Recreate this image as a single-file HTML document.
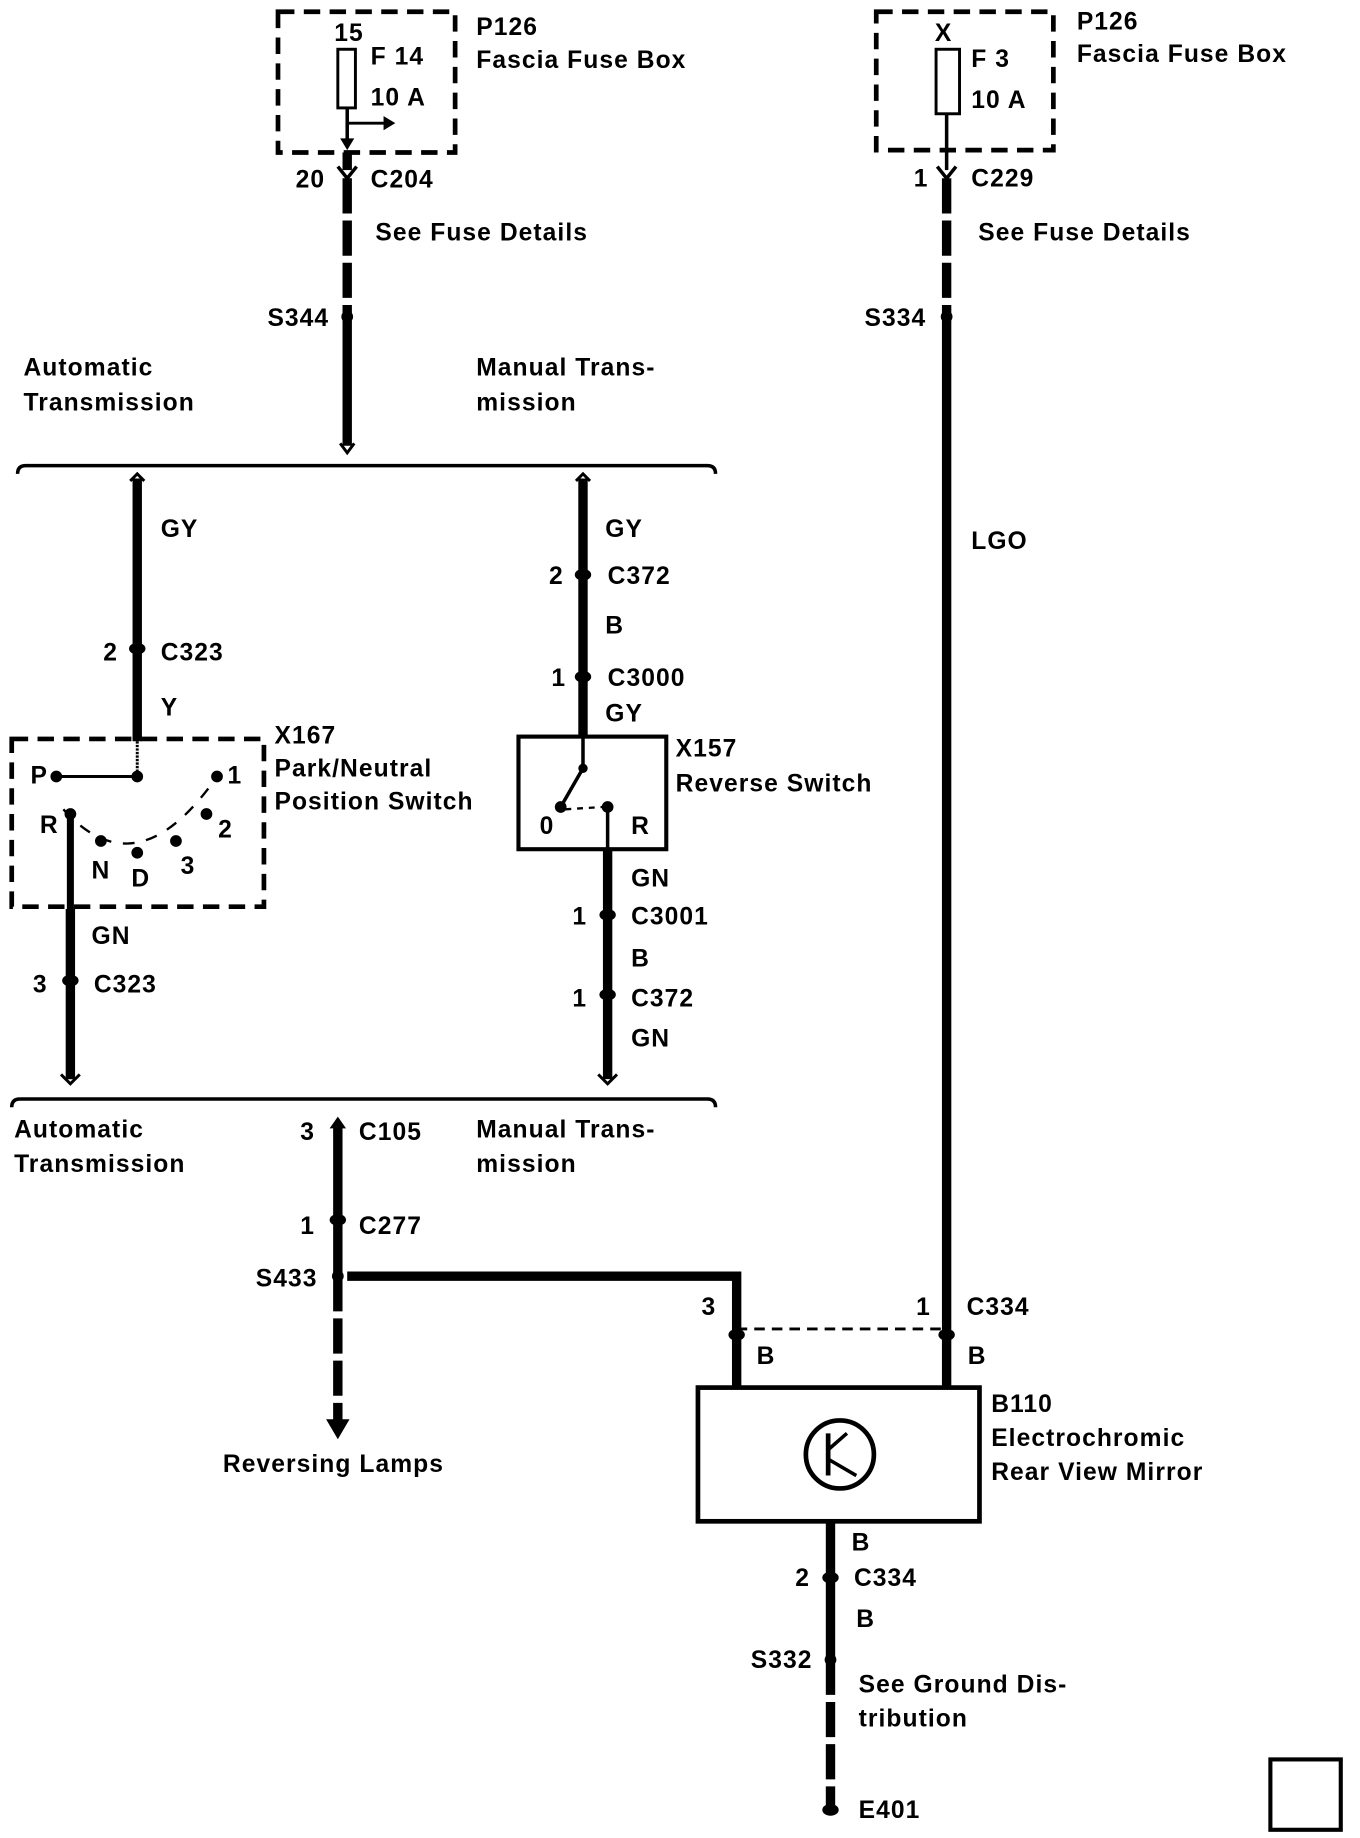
<!DOCTYPE html>
<html><head><meta charset="utf-8"><style>
html,body{margin:0;padding:0;background:#fff;}
svg{display:block;}
text{font-family:"Liberation Sans",Arial,sans-serif;font-weight:bold;font-size:21px;fill:#000;letter-spacing:0.9px;}
</style></head><body>
<svg width="1360" height="1838" viewBox="0 0 1159.4 1567" preserveAspectRatio="none" xmlns="http://www.w3.org/2000/svg">
<g fill="none" stroke="#000">
<rect x="237" y="10" width="151" height="120" stroke-width="4" stroke-dasharray="14,8"/>
<rect x="288" y="42" width="15" height="50" stroke-width="2.5"/>
<line x1="296" y1="92" x2="296" y2="122" stroke-width="3"/>
<line x1="296" y1="105" x2="330" y2="105" stroke-width="2.5"/>
<line x1="296" y1="130" x2="296" y2="145" stroke-width="8"/>
<rect x="747" y="10" width="151" height="118" stroke-width="4" stroke-dasharray="14,8"/>
<rect x="798" y="42" width="20" height="55" stroke-width="2.5"/>
<line x1="807" y1="97" x2="807" y2="145" stroke-width="3"/>
<line x1="296" y1="152" x2="296" y2="270" stroke-width="8" stroke-dasharray="30,6"/>
<line x1="296" y1="270" x2="296" y2="380" stroke-width="8"/>
<line x1="807" y1="152" x2="807" y2="270" stroke-width="8" stroke-dasharray="30,6"/>
<line x1="807" y1="270" x2="807" y2="1138" stroke-width="8"/>
<path d="M288 142 L296 152 L304 142" stroke-width="3"/>
<path d="M799 142 L807 152 L815 142" stroke-width="3"/>
<path d="M290 378 L296 386 L302 378" stroke-width="2.5"/>
<path d="M15 404 Q15 397 22 397 L603 397 Q610 397 610 404" stroke-width="3"/>
<path d="M111 410 L117 404 L123 410" stroke-width="2.5"/>
<line x1="117" y1="408" x2="117" y2="632" stroke-width="8"/>
<rect x="10" y="630" width="215" height="143" stroke-width="4" stroke-dasharray="14,8"/>
<line x1="117" y1="632" x2="117" y2="662" stroke-width="2.5" stroke-dasharray="2,1"/>
<line x1="48" y1="662" x2="117" y2="662" stroke-width="2.5"/>
<path d="M54 690 Q117 760 185 662" stroke-width="2" stroke-dasharray="10,10"/>
<line x1="60" y1="690" x2="60" y2="920" stroke-width="6"/>
<line x1="60" y1="775" x2="60" y2="920" stroke-width="8"/>
<path d="M52 916 L60 924 L68 916" stroke-width="2.5"/>
<path d="M491 410 L497 404 L503 410" stroke-width="2.5"/>
<line x1="497" y1="408" x2="497" y2="628" stroke-width="8"/>
<rect x="442" y="628" width="126" height="96" stroke-width="3.5"/>
<line x1="497" y1="628" x2="497" y2="655" stroke-width="3"/>
<line x1="497" y1="655" x2="478" y2="688" stroke-width="3"/>
<line x1="482" y1="690" x2="514" y2="688" stroke-width="2" stroke-dasharray="5,5"/>
<line x1="518" y1="688" x2="518" y2="724" stroke-width="3"/>
<line x1="518" y1="724" x2="518" y2="920" stroke-width="8"/>
<path d="M510 916 L518 924 L526 916" stroke-width="2.5"/>
<path d="M10 944 Q10 937 17 937 L603 937 Q610 937 610 944" stroke-width="3"/>
<line x1="288" y1="958" x2="288" y2="1088" stroke-width="8"/>
<line x1="288" y1="1088" x2="288" y2="1212" stroke-width="8" stroke-dasharray="30,6"/>
<path d="M296 1088 L628 1088 L628 1183" stroke-width="8"/>
<line x1="628" y1="1133" x2="807" y2="1133" stroke-width="2.5" stroke-dasharray="9,6"/>
<line x1="807" y1="1138" x2="807" y2="1183" stroke-width="8"/>
<rect x="595" y="1183" width="240" height="114" stroke-width="4"/>
<circle cx="716" cy="1240" r="29" stroke-width="4"/>
<line x1="706" y1="1222" x2="706" y2="1258" stroke-width="4"/>
<line x1="706" y1="1236" x2="722" y2="1222" stroke-width="3"/>
<line x1="706" y1="1244" x2="730" y2="1258" stroke-width="3"/>
<line x1="708" y1="1297" x2="708" y2="1415" stroke-width="8"/>
<line x1="708" y1="1415" x2="708" y2="1545" stroke-width="8" stroke-dasharray="30,6"/>
<rect x="1083" y="1500" width="60" height="60" stroke-width="3.5"/>
</g>
<g fill="#000">
<polygon points="296,128 290,118 302,118"/>
<polygon points="337,105 327,99 327,111"/>
<polygon points="278,1210 298,1210 288,1227"/>
<polygon points="281,962 295,962 288,952"/>
<circle cx="296" cy="270" r="5"/><circle cx="807" cy="270" r="5"/>
<circle cx="288" cy="1088" r="5"/><circle cx="708" cy="1415" r="5"/>
<circle cx="117" cy="662" r="5"/><circle cx="48" cy="662" r="5"/>
<circle cx="185" cy="662" r="5"/><circle cx="176" cy="694" r="5"/>
<circle cx="150" cy="717" r="5"/><circle cx="117" cy="727" r="5"/>
<circle cx="86" cy="717" r="5"/><circle cx="60" cy="694" r="5"/>
<circle cx="497" cy="655" r="4"/><circle cx="478" cy="688" r="5"/><circle cx="518" cy="688" r="5"/>
<ellipse cx="117" cy="553" rx="7" ry="5"/><ellipse cx="60" cy="836" rx="7" ry="5"/>
<ellipse cx="497" cy="490" rx="7" ry="5"/><ellipse cx="497" cy="577" rx="7" ry="5"/>
<ellipse cx="518" cy="780" rx="7" ry="5"/><ellipse cx="518" cy="848" rx="7" ry="5"/>
<ellipse cx="288" cy="1040" rx="7" ry="5"/><ellipse cx="628" cy="1138" rx="7" ry="5"/>
<ellipse cx="807" cy="1138" rx="7" ry="5"/><ellipse cx="708" cy="1345" rx="7" ry="5"/>
<ellipse cx="708" cy="1543" rx="7" ry="5"/>
</g>
<text x="285" y="35">15</text><text x="316" y="55">F 14</text><text x="316" y="90">10 A</text>
<text x="406" y="30">P126</text><text x="406" y="58">Fascia Fuse Box</text>
<text x="252" y="160">20</text><text x="316" y="160">C204</text>
<text x="320" y="205">See Fuse Details</text>
<text x="228" y="278">S344</text>
<text x="797" y="35">X</text><text x="828" y="57">F 3</text><text x="828" y="92">10 A</text>
<text x="918" y="25">P126</text><text x="918" y="53">Fascia Fuse Box</text>
<text x="779" y="159">1</text><text x="828" y="159">C229</text>
<text x="834" y="205">See Fuse Details</text>
<text x="737" y="278">S334</text>
<text x="20" y="320">Automatic</text><text x="20" y="350">Transmission</text>
<text x="406" y="320">Manual Trans-</text><text x="406" y="350">mission</text>
<text x="828" y="468">LGO</text>
<text x="137" y="458">GY</text><text x="88" y="563">2</text><text x="137" y="563">C323</text>
<text x="137" y="610">Y</text>
<text x="234" y="634">X167</text><text x="234" y="662">Park/Neutral</text><text x="234" y="690">Position Switch</text>
<text x="26" y="668">P</text><text x="194" y="668">1</text><text x="34" y="710">R</text><text x="186" y="714">2</text>
<text x="78" y="749">N</text><text x="112" y="756">D</text><text x="154" y="745">3</text>
<text x="78" y="805">GN</text><text x="28" y="846">3</text><text x="80" y="846">C323</text>
<text x="516" y="458">GY</text><text x="468" y="498">2</text><text x="518" y="498">C372</text>
<text x="516" y="540">B</text><text x="470" y="585">1</text><text x="518" y="585">C3000</text>
<text x="516" y="615">GY</text>
<text x="576" y="645">X157</text><text x="576" y="675">Reverse Switch</text>
<text x="460" y="711">0</text><text x="538" y="711">R</text>
<text x="538" y="756">GN</text><text x="488" y="788">1</text><text x="538" y="788">C3001</text>
<text x="538" y="824">B</text><text x="488" y="858">1</text><text x="538" y="858">C372</text>
<text x="538" y="892">GN</text>
<text x="12" y="970">Automatic</text><text x="12" y="999">Transmission</text>
<text x="406" y="970">Manual Trans-</text><text x="406" y="999">mission</text>
<text x="256" y="972">3</text><text x="306" y="972">C105</text>
<text x="256" y="1052">1</text><text x="306" y="1052">C277</text>
<text x="218" y="1097">S433</text>
<text x="190" y="1255">Reversing Lamps</text>
<text x="598" y="1121">3</text><text x="781" y="1121">1</text><text x="824" y="1121">C334</text>
<text x="645" y="1163">B</text><text x="825" y="1163">B</text>
<text x="845" y="1204">B110</text><text x="845" y="1233">Electrochromic</text><text x="845" y="1262">Rear View Mirror</text>
<text x="726" y="1322">B</text><text x="678" y="1352">2</text><text x="728" y="1352">C334</text>
<text x="730" y="1387">B</text><text x="640" y="1422">S332</text>
<text x="732" y="1443">See Ground Dis-</text><text x="732" y="1472">tribution</text>
<text x="732" y="1550">E401</text>
</svg>
</body></html>
